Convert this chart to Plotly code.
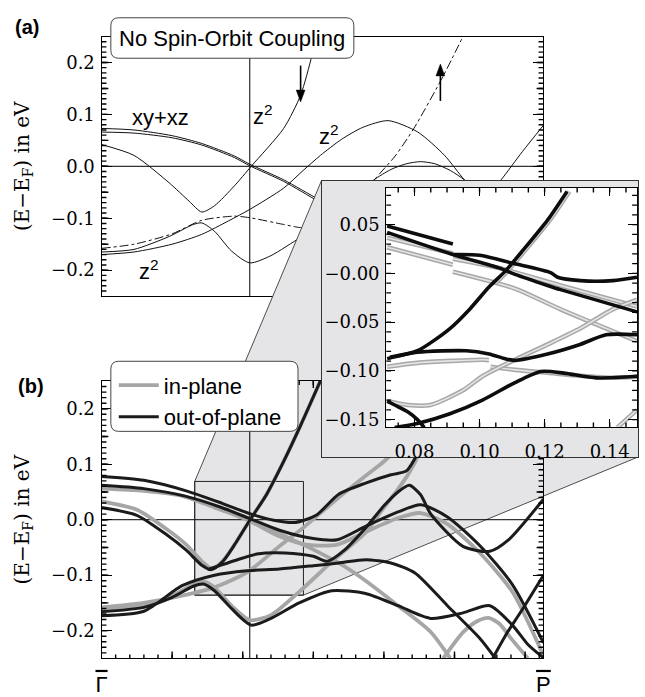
import plotly.graph_objects as go

W, H = 645, 697

# ---------------- axes / reference values ----------------
K_RANGE = [0.0, 0.313]
E_RANGE = [-0.25, 0.25]
K_CUT = 0.105
ZOOM_K = [0.066, 0.143]
ZOOM_E = [-0.136, 0.069]
INSET_K = [0.0713, 0.1484]
INSET_E = [-0.158, 0.088]

K_END_TICKS = [0.0, 0.313]
K_END_TEXT = ["<span style='text-decoration:overline'>Γ</span>",
              "<span style='text-decoration:overline'>P</span>"]
INSET_E_TICKS = [0.05, 0.0, -0.05, -0.10, -0.15]
INSET_E_TEXT = ["0.05", "−0.00", "−0.05", "−0.10", "−0.15"]

# tick spacings
E_MAJOR, E_MID, E_MINOR = 0.1, 0.05, 0.01
K_MAJOR, K_MINOR = 0.05, 0.01
IK_MAJOR, IK_MINOR = 0.02, 0.005
IE_MINOR = 0.01

# spin arrows of panel (a): k, E of tail, E of head
ARROW_DOWN = (0.141, 0.194, 0.124)
ARROW_UP = (0.240, 0.126, 0.197)

# ---------------- panel (a): no spin-orbit coupling (k, E) ----------------
a_xyxz_1 = [(0, 0.073), (0.023, 0.070), (0.05, 0.059), (0.071, 0.044), (0.094, 0.020),
            (0.105, 0.004), (0.129, -0.026), (0.154, -0.064), (0.18, -0.10), (0.21, -0.14)]
a_xyxz_2 = [(0, 0.066), (0.023, 0.064), (0.05, 0.055), (0.071, 0.041), (0.094, 0.017),
            (0.105, 0.001), (0.129, -0.029), (0.154, -0.068), (0.18, -0.105), (0.21, -0.145)]
a_dip_steep = [(0, 0.042), (0.023, 0.021), (0.048, -0.032), (0.062, -0.067), (0.071, -0.088),
               (0.08, -0.076), (0.094, -0.038), (0.106, 0.0), (0.129, 0.073), (0.141, 0.137),
               (0.149, 0.213), (0.153, 0.26)]
a_z2_low = [(0, -0.165), (0.023, -0.160), (0.048, -0.135), (0.065, -0.112), (0.071, -0.109),
            (0.08, -0.125), (0.092, -0.163), (0.105, -0.186), (0.12, -0.172), (0.141, -0.137),
            (0.154, -0.118), (0.17, -0.09), (0.185, -0.05)]
a_z2_peak = [(0, -0.170), (0.023, -0.165), (0.05, -0.150), (0.071, -0.131), (0.09, -0.105),
             (0.105, -0.083), (0.129, -0.042), (0.142, -0.01), (0.155, 0.021), (0.17, 0.052),
             (0.185, 0.075), (0.203, 0.088), (0.224, 0.066), (0.243, 0.021), (0.257, -0.026),
             (0.27, -0.06)]
a_hump = [(0.185, -0.045), (0.193, -0.026), (0.205, -0.006), (0.216, 0.005), (0.226, 0.009),
          (0.236, 0.005), (0.247, -0.008), (0.257, -0.026), (0.265, -0.045)]
a_to_P = [(0.272, -0.06), (0.283, -0.026), (0.298, 0.028), (0.313, 0.079)]
a_dashdot = [(0, -0.158), (0.023, -0.150), (0.05, -0.130), (0.071, -0.104), (0.094, -0.096),
             (0.105, -0.099), (0.129, -0.112), (0.141, -0.118), (0.154, -0.117), (0.17, -0.10),
             (0.185, -0.06), (0.193, -0.027), (0.208, 0.02), (0.221, 0.072), (0.242, 0.174),
             (0.256, 0.25)]

# ---------------- panel (b): with spin-orbit coupling ----------------
b_out_1 = [(0, 0.078), (0.03, 0.071), (0.06, 0.052), (0.085, 0.030), (0.106, 0.010),
           (0.122, -0.001), (0.137, -0.005), (0.152, 0.008), (0.168, 0.046), (0.187, 0.066),
           (0.205, 0.081), (0.216, 0.088), (0.224, 0.12), (0.232, 0.17), (0.24, 0.23)]
b_out_2 = [(0, 0.062), (0.03, 0.056), (0.06, 0.042), (0.085, 0.022), (0.105, 0.002),
           (0.126, -0.019), (0.15, -0.034), (0.167, -0.036), (0.187, -0.012), (0.21, 0.014),
           (0.226, 0.027), (0.245, 0.005), (0.268, -0.047), (0.291, -0.117), (0.313, -0.222)]
b_out_3 = [(0, 0.022), (0.025, 0.008), (0.045, -0.025), (0.06, -0.055), (0.071, -0.082),
           (0.078, -0.090), (0.086, -0.075), (0.095, -0.042), (0.105, -0.001), (0.117, 0.046),
           (0.129, 0.105), (0.141, 0.17), (0.155, 0.25)]
b_out_4 = [(0, -0.166), (0.03, -0.158), (0.05, -0.14), (0.065, -0.12), (0.072, -0.116),
           (0.08, -0.128), (0.092, -0.160), (0.106, -0.190), (0.12, -0.178), (0.14, -0.150),
           (0.163, -0.128), (0.187, -0.133), (0.21, -0.155), (0.233, -0.178), (0.256, -0.168),
           (0.275, -0.155), (0.291, -0.19), (0.302, -0.225), (0.313, -0.249)]
b_out_5 = [(0, -0.173), (0.03, -0.165), (0.057, -0.119), (0.08, -0.100), (0.103, -0.092),
           (0.126, -0.089), (0.15, -0.083), (0.168, -0.078), (0.187, -0.072), (0.205, -0.078),
           (0.222, -0.096), (0.245, -0.155), (0.268, -0.214), (0.279, -0.25)]
b_out_6 = [(0.075, -0.09), (0.094, -0.074), (0.11, -0.062), (0.13, -0.060), (0.15, -0.066),
           (0.16, -0.075), (0.172, -0.055), (0.187, -0.015), (0.2, 0.025), (0.21, 0.05),
           (0.218, 0.062), (0.226, 0.045), (0.233, 0.011), (0.256, -0.048), (0.275, -0.057),
           (0.288, -0.037), (0.313, 0.037)]
b_out_7 = [(0.277, -0.25), (0.287, -0.205), (0.297, -0.166), (0.313, -0.100)]

b_in_1 = [(0, 0.056), (0.03, 0.052), (0.057, 0.043), (0.08, 0.022), (0.103, 0.002),
          (0.126, -0.025), (0.15, -0.054), (0.168, -0.078), (0.187, -0.110), (0.21, -0.155),
          (0.233, -0.202), (0.247, -0.25)]
b_in_2 = [(0, 0.033), (0.025, 0.018), (0.045, -0.015), (0.06, -0.045), (0.071, -0.075),
          (0.078, -0.088), (0.086, -0.074), (0.095, -0.042), (0.105, -0.001), (0.117, 0.046),
          (0.129, 0.105), (0.141, 0.17), (0.155, 0.25)]
b_in_3 = [(0, -0.163), (0.03, -0.154), (0.05, -0.137), (0.065, -0.117), (0.073, -0.112),
          (0.08, -0.122), (0.092, -0.155), (0.105, -0.181), (0.12, -0.172), (0.14, -0.13),
          (0.163, -0.076), (0.187, -0.023), (0.198, 0.015), (0.21, 0.055), (0.218, 0.085),
          (0.225, 0.12), (0.232, 0.17)]
b_in_4 = [(0, -0.158), (0.03, -0.150), (0.057, -0.137), (0.08, -0.122), (0.103, -0.095),
          (0.126, -0.048), (0.144, -0.012), (0.168, 0.04), (0.19, 0.085), (0.2, 0.105),
          (0.21, 0.13)]
b_in_5 = [(0.08, 0.022), (0.103, 0.000), (0.126, -0.030), (0.145, -0.045), (0.167, -0.045),
          (0.187, -0.022), (0.21, 0.003), (0.226, 0.012), (0.245, -0.008), (0.268, -0.06),
          (0.291, -0.13), (0.313, -0.245)]
b_in_6 = [(0.242, -0.25), (0.256, -0.203), (0.266, -0.183), (0.274, -0.177), (0.282, -0.188),
          (0.29, -0.214), (0.302, -0.25)]

# ---------------- inset (dense k-mesh) ----------------
i_out_1 = [(0.0716, 0.0485), (0.0918, 0.030), None, (0.0918, 0.0193), (0.100, 0.0186),
           (0.110, 0.0105), (0.122, 0.0006), (0.124, -0.004), (0.131, -0.0075),
           (0.141, -0.0075), (0.1484, -0.004)]
i_out_2 = [(0.0716, 0.042), (0.0918, 0.0193), (0.106, 0.0056), (0.1109, -0.001),
           (0.1209, -0.0124), (0.1249, -0.0167), (0.1484, -0.0395)]
i_out_steep = [(0.0724, -0.086), (0.0809, -0.0794), (0.0909, -0.0566), (0.0969, -0.037),
               (0.1029, -0.014), (0.1079, 0.0023), (0.1129, 0.0219), (0.1209, 0.0546),
               (0.1269, 0.084)]
i_out_3 = [(0.0716, -0.0876), (0.0809, -0.081), (0.0959, -0.0794), (0.1029, -0.0827),
           (0.1079, -0.0876), (0.1109, -0.0892), (0.1209, -0.0827), (0.1309, -0.0729),
           (0.1389, -0.063), (0.1484, -0.063)]
i_out_4 = [(0.0739, -0.158), (0.0809, -0.154), (0.0909, -0.144), (0.1009, -0.130),
           (0.1109, -0.112), (0.1189, -0.1007), (0.1259, -0.1023), (0.1359, -0.1072),
           (0.1484, -0.1056)]
i_out_5 = [(0.0716, -0.131), (0.0739, -0.135), (0.0779, -0.142), (0.0809, -0.150),
           (0.083, -0.158)]

i_in_1 = [(0.0716, 0.0366), (0.0918, 0.0203), None, (0.0918, 0.0150), (0.1069, 0.0047),
          (0.1249, -0.0124), (0.1484, -0.034)]
i_in_2 = [(0.0716, 0.0268), (0.0918, 0.0088), None, (0.0918, 0.0016), (0.1109, -0.0157),
          (0.1249, -0.0369), (0.1484, -0.0696)]
i_in_steep = [(0.1049, -0.010), (0.1086, 0.0023), (0.1136, 0.0219), (0.1216, 0.0546),
              (0.1276, 0.084)]
i_in_3 = [(0.0716, -0.0958), (0.0809, -0.0918), (0.1009, -0.0886), (0.1029, -0.0890), None,
          (0.1034, -0.0958), (0.1109, -0.099), (0.1209, -0.102), (0.1309, -0.105),
          (0.1409, -0.107), (0.1484, -0.106)]
i_in_4 = [(0.0716, -0.131), (0.0779, -0.135), (0.0849, -0.135), (0.0949, -0.120),
          (0.1009, -0.1055), (0.1109, -0.0886), (0.1209, -0.0729), (0.1309, -0.0566),
          (0.1409, -0.037), (0.1484, -0.0271)]
i_in_5 = [(0.1424, -0.158), (0.1484, -0.140)]

a_solid = [a_xyxz_1, a_xyxz_2, a_dip_steep, a_z2_low, a_z2_peak, a_hump, a_to_P]
b_out = [b_out_1, b_out_2, b_out_3, b_out_4, b_out_5, b_out_6, b_out_7]
b_in = [b_in_1, b_in_2, b_in_3, b_in_4, b_in_5, b_in_6]
i_out = [i_out_1, i_out_2, i_out_steep, i_out_3, i_out_4, i_out_5]
i_in = [i_in_1, i_in_2, i_in_steep, i_in_3, i_in_4, i_in_5]


# ---------------- layout geometry (pixels of the 645x697 page) ----------------
def px(x):
    return x / W


def py(y):
    return 1 - y / H


A_PX = (97.5, 548.5, 37, 300)      # left, right, top, bottom
B_PX = (97.5, 548.5, 386, 667)
I_PX = (388, 644, 190, 433)
A_X = [px(A_PX[0]), px(A_PX[1])]
A_Y = [py(A_PX[3]), py(A_PX[2])]
B_X = [px(B_PX[0]), px(B_PX[1])]
B_Y = [py(B_PX[3]), py(B_PX[2])]
F_X = [px(322), 1.0]
F_Y = [py(463), py(183)]
I_X = [px(I_PX[0]), px(I_PX[1])]
I_Y = [py(I_PX[3]), py(I_PX[2])]

BLACK = "#1b1b1b"
GRAY = "#a6a6a6"
SERIF = "DejaVu Serif"
SANS = "Liberation Sans"


def xy(pts):
    xs, ys = [], []
    for p in pts:
        if p is None:
            xs.append(None)
            ys.append(None)
        else:
            xs.append(p[0])
            ys.append(p[1])
    return xs, ys


def tick_positions(lo, hi, step):
    n0 = int(lo / step) - 1
    n1 = int(hi / step) + 1
    eps = step * 1e-3
    return [round(n * step, 6) for n in range(n0, n1 + 1) if lo + eps < n * step < hi - eps]


fig = go.Figure()


def add(pts, xa, ya, color, width, dash="solid", name=None, legend=False, rank=None):
    xs, ys = xy(pts)
    fig.add_trace(go.Scatter(
        x=xs, y=ys, mode="lines", xaxis=xa, yaxis=ya,
        line=dict(color=color, width=width, dash=dash, shape="spline", smoothing=0.7),
        name=name, showlegend=legend, legendrank=rank, hoverinfo="skip"))


def add_ticks(xa, ya, xr, yr, box_px, along, step, length):
    """Tick marks drawn inward from both frame sides of a subplot."""
    w_px = box_px[1] - box_px[0]
    h_px = box_px[3] - box_px[2]
    xs, ys = [], []
    if along == "y":
        dx = length * (xr[1] - xr[0]) / w_px
        for v in tick_positions(yr[0], yr[1], step):
            xs += [xr[0], xr[0] + dx, None, xr[1] - dx, xr[1], None]
            ys += [v, v, None, v, v, None]
    else:
        dy = length * (yr[1] - yr[0]) / h_px
        for v in tick_positions(xr[0], xr[1], step):
            xs += [v, v, None, v, v, None]
            ys += [yr[0], yr[0] + dy, None, yr[1] - dy, yr[1], None]
    fig.add_trace(go.Scatter(x=xs, y=ys, mode="lines", xaxis=xa, yaxis=ya,
                             line=dict(color="black", width=1.4), showlegend=False,
                             hoverinfo="skip"))


# panel (a)
for band in a_solid:
    add(band, "x", "y", "#111111", 1.0)
add(a_dashdot, "x", "y", "#111111", 1.0, dash="dashdot")
add_ticks("x", "y", K_RANGE, E_RANGE, A_PX, "y", E_MINOR, 5)
add_ticks("x", "y", K_RANGE, E_RANGE, A_PX, "y", E_MID, 7)


# connector (gray zoom wedge) on a full-page helper subplot
def bx(k):
    return B_X[0] + (k - K_RANGE[0]) / (K_RANGE[1] - K_RANGE[0]) * (B_X[1] - B_X[0])


def by(e):
    return B_Y[0] + (e - E_RANGE[0]) / (E_RANGE[1] - E_RANGE[0]) * (B_Y[1] - B_Y[0])


poly_x = [bx(ZOOM_K[0]), bx(ZOOM_K[0]), F_X[0], F_X[1], F_X[1], bx(ZOOM_K[1]), bx(ZOOM_K[0])]
poly_y = [by(ZOOM_E[0]), by(ZOOM_E[1]), F_Y[1], F_Y[1], F_Y[0], by(ZOOM_E[0]), by(ZOOM_E[0])]
fig.add_trace(go.Scatter(x=poly_x, y=poly_y, mode="lines", fill="toself",
                         fillcolor="#e5e5e7", line=dict(color="#3a3a3a", width=0.9),
                         xaxis="x2", yaxis="y2", showlegend=False, hoverinfo="skip"))

# panel (b): in-plane first, out-of-plane drawn on top
for i, band in enumerate(b_in):
    add(band, "x3", "y3", GRAY, 3.8, name="in-plane", legend=(i == 0), rank=1)
for i, band in enumerate(b_out):
    add(band, "x3", "y3", BLACK, 3.0, name="out-of-plane", legend=(i == 0), rank=2)
add_ticks("x3", "y3", K_RANGE, E_RANGE, B_PX, "y", E_MINOR, 5)
add_ticks("x3", "y3", K_RANGE, E_RANGE, B_PX, "y", E_MID, 7)
add_ticks("x3", "y3", K_RANGE, E_RANGE, B_PX, "x", K_MINOR, 4)
add_ticks("x3", "y3", K_RANGE, E_RANGE, B_PX, "x", K_MAJOR, 7)

# inset frame
fig.add_trace(go.Scatter(x=[0, 1, 1, 0, 0], y=[0, 0, 1, 1, 0], mode="lines", fill="toself",
                         fillcolor="#e5e5e7", line=dict(width=0), xaxis="x4", yaxis="y4",
                         showlegend=False, hoverinfo="skip"))

# inset
fig.add_trace(go.Scatter(x=[INSET_K[0], INSET_K[1], INSET_K[1], INSET_K[0], INSET_K[0]],
                         y=[INSET_E[0], INSET_E[0], INSET_E[1], INSET_E[1], INSET_E[0]],
                         mode="lines", fill="toself", fillcolor="white", line=dict(width=0),
                         xaxis="x5", yaxis="y5", showlegend=False, hoverinfo="skip"))
for band in i_in:
    add(band, "x5", "y5", "#a8a8a8", 4.6)
    add(band, "x5", "y5", "#e4e4e4", 1.6)
for band in i_out:
    add(band, "x5", "y5", "#0d0d0d", 3.6)
add_ticks("x5", "y5", INSET_K, INSET_E, I_PX, "x", IK_MINOR, 5)
add_ticks("x5", "y5", INSET_K, INSET_E, I_PX, "y", IE_MINOR, 5)


# ---------------- axes ----------------
def eaxis(domain, anchor):
    return dict(domain=domain, anchor=anchor, range=E_RANGE, showgrid=False, zeroline=False,
                showline=True, linecolor="black", linewidth=1.2, mirror="ticks",
                ticks="inside", ticklen=10, tickwidth=1.4, tickcolor="black",
                tickmode="linear", tick0=0, dtick=E_MAJOR, tickformat=".1f",
                ticklabelstandoff=2,
                tickfont=dict(family=SERIF, size=18, color="black"),
                title=dict(text="(E−E<sub>F</sub>) in eV", standoff=16,
                           font=dict(family=SERIF, size=20, color="black")))


layout = dict(
    width=W, height=H, margin=dict(l=0, r=0, t=0, b=0),
    paper_bgcolor="white", plot_bgcolor="rgba(0,0,0,0)",
    showlegend=True,
    xaxis=dict(domain=A_X, anchor="y", range=K_RANGE, showgrid=False, zeroline=False,
               showline=True, linecolor="black", linewidth=1.2, mirror=True,
               ticks="", showticklabels=False),
    yaxis=eaxis(A_Y, "x"),
    xaxis2=dict(domain=[0, 1], anchor="y2", range=[0, 1], visible=False),
    yaxis2=dict(domain=[0, 1], anchor="x2", range=[0, 1], visible=False),
    xaxis3=dict(domain=B_X, anchor="y3", range=K_RANGE, showgrid=False, zeroline=False,
                showline=True, linecolor="black", linewidth=1.2, mirror=True,
                ticks="", tickmode="array", tickvals=K_END_TICKS, ticktext=K_END_TEXT,
                tickfont=dict(family=SANS, size=22, color="black"), ticklabelstandoff=6),
    yaxis3=eaxis(B_Y, "x3"),
    xaxis4=dict(domain=F_X, anchor="y4", range=[0, 1], showgrid=False, zeroline=False,
                showline=True, mirror=True, linecolor="#333333", linewidth=1,
                ticks="", showticklabels=False),
    yaxis4=dict(domain=F_Y, anchor="x4", range=[0, 1], showgrid=False, zeroline=False,
                showline=True, mirror=True, linecolor="#333333", linewidth=1,
                ticks="", showticklabels=False),
    xaxis5=dict(domain=I_X, anchor="y5", range=INSET_K, showgrid=False, zeroline=False,
                showline=True, linecolor="black", linewidth=1, mirror="ticks",
                ticks="inside", ticklen=8, tickwidth=1.4, tickcolor="black",
                tickmode="linear", tick0=0, dtick=IK_MAJOR, tickformat=".2f",
                ticklabelstandoff=8, tickfont=dict(family=SERIF, size=18, color="black")),
    yaxis5=dict(domain=I_Y, anchor="x5", range=INSET_E, showgrid=False, zeroline=False,
                showline=True, linecolor="black", linewidth=1, mirror="ticks",
                ticks="inside", ticklen=9, tickwidth=1.4, tickcolor="black", tickmode="array",
                tickvals=INSET_E_TICKS, ticktext=INSET_E_TEXT, ticklabelstandoff=2,
                tickfont=dict(family=SERIF, size=18, color="black")),
    legend=dict(x=px(110), y=py(369), xanchor="left", yanchor="top",
                bgcolor="rgba(0,0,0,0)", borderwidth=0, itemwidth=40,
                font=dict(family=SANS, size=22, color="black"), tracegroupgap=0),
)
fig.update_layout(**layout)


def rrect(x0, y0, x1, y1, r):
    return (f"M {px(x0 + r)},{py(y0)} L {px(x1 - r)},{py(y0)} Q {px(x1)},{py(y0)} {px(x1)},{py(y0 + r)} "
            f"L {px(x1)},{py(y1 - r)} Q {px(x1)},{py(y1)} {px(x1 - r)},{py(y1)} "
            f"L {px(x0 + r)},{py(y1)} Q {px(x0)},{py(y1)} {px(x0)},{py(y1 - r)} "
            f"L {px(x0)},{py(y0 + r)} Q {px(x0)},{py(y0)} {px(x0 + r)},{py(y0)} Z")


# arrow geometry of panel (a) in page pixels
def a_kx(k):
    return A_PX[0] + (k - K_RANGE[0]) / (K_RANGE[1] - K_RANGE[0]) * (A_PX[1] - A_PX[0])


def a_ey(e):
    return A_PX[2] + (E_RANGE[1] - e) / (E_RANGE[1] - E_RANGE[0]) * (A_PX[3] - A_PX[2])


def arrow_shapes(spec):
    k, e_tail, e_head = spec
    x = a_kx(k)
    yt, yh = a_ey(e_tail), a_ey(e_head)
    d = 1 if yh > yt else -1
    head_len, half_w = 12, 4.5
    yb = yh - d * head_len
    line = dict(type="line", xref="paper", yref="paper", x0=px(x), x1=px(x), y0=py(yt),
                y1=py(yb), line=dict(color="black", width=1.6), layer="above")
    tri = dict(type="path", xref="paper", yref="paper",
               path=f"M {px(x - half_w)},{py(yb)} L {px(x + half_w)},{py(yb)} L {px(x)},{py(yh)} Z",
               fillcolor="black", line=dict(color="black", width=0.5), layer="above")
    return [line, tri]


shapes = [
    # reference lines, panel (a)
    dict(type="line", xref="x", yref="y", x0=K_CUT, x1=K_CUT, y0=E_RANGE[0], y1=E_RANGE[1],
         line=dict(color="black", width=1), layer="below"),
    dict(type="line", xref="x", yref="y", x0=K_RANGE[0], x1=K_RANGE[1], y0=0, y1=0,
         line=dict(color="#333333", width=1.3), layer="below"),
    # reference lines, panel (b)
    dict(type="line", xref="x3", yref="y3", x0=K_CUT, x1=K_CUT, y0=E_RANGE[0], y1=E_RANGE[1],
         line=dict(color="black", width=1), layer="below"),
    dict(type="line", xref="x3", yref="y3", x0=K_RANGE[0], x1=K_RANGE[1], y0=0, y1=0,
         line=dict(color="black", width=1), layer="below"),
    dict(type="rect", xref="x3", yref="y3", x0=ZOOM_K[0], x1=ZOOM_K[1], y0=ZOOM_E[0],
         y1=ZOOM_E[1], line=dict(color="#222222", width=1), layer="below"),
    # inset zero line
    dict(type="line", xref="x5", yref="y5", x0=INSET_K[0], x1=INSET_K[1], y0=0, y1=0,
         line=dict(color="black", width=1), layer="below"),
    # rounded boxes
    dict(type="path", xref="paper", yref="paper", path=rrect(107, 18, 355, 59, 8),
         fillcolor="white", line=dict(color="#444444", width=1), layer="above"),
    dict(type="path", xref="paper", yref="paper", path=rrect(107, 366, 298, 437, 8),
         fillcolor="white", line=dict(color="#444444", width=1), layer="above"),
]
shapes += arrow_shapes(ARROW_DOWN) + arrow_shapes(ARROW_UP)
fig.update_layout(shapes=shapes)

ann = [
    dict(text="<b>(a)</b>", x=px(21.5), y=py(27.5)),
    dict(text="<b>(b)</b>", x=px(26), y=py(391)),
    dict(text="No Spin-Orbit Coupling", x=px(231), y=py(39),
         font=dict(family=SANS, size=22, color="black")),
    dict(text="xy+xz", x=px(158), y=py(119), font=dict(family=SANS, size=22, color="black")),
    dict(text="z<sup>2</sup>", x=px(262), y=py(116),
         font=dict(family=SANS, size=22, color="black")),
    dict(text="z<sup>2</sup>", x=px(330), y=py(137),
         font=dict(family=SANS, size=22, color="black")),
    dict(text="z<sup>2</sup>", x=px(146), y=py(274),
         font=dict(family=SANS, size=22, color="black")),
]
for a in ann:
    a.setdefault("font", dict(family=SANS, size=20, color="black"))
    a.update(xref="paper", yref="paper", showarrow=False, xanchor="center", yanchor="middle")
fig.update_layout(annotations=ann)

fig.write_html("out.html")
